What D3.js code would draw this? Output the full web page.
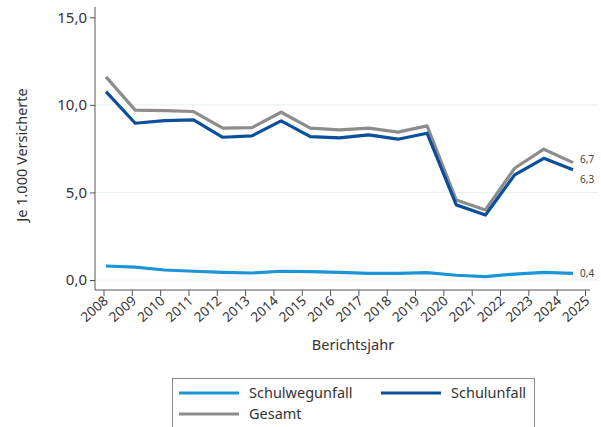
<!DOCTYPE html>
<html>
<head>
    <meta charset="utf-8"/>
    <title>Schulunfälle je 1.000 Versicherte</title>
    <script src="https://d3js.org/d3.v7.min.js"></script>
    <style>
        body { margin: 0; background: #fff; }
        text { font-family: "Noto Sans", sans-serif; }
    </style>
</head>
<body>
<div id="chart"></div>
<script>
    const years = [2008, 2009, 2010, 2011, 2012, 2013, 2014, 2015, 2016, 2017, 2018, 2019, 2020, 2021, 2022, 2023, 2024]
    const tickYears = [2008, 2009, 2010, 2011, 2012, 2013, 2014, 2015, 2016, 2017, 2018, 2019, 2020, 2021, 2022, 2023, 2024, 2025]
    const yTicks = [0, 5, 10, 15]

    const schulwegunfall = [0.80, 0.73, 0.57, 0.50, 0.44, 0.40, 0.50, 0.48, 0.44, 0.38, 0.38, 0.42, 0.27, 0.19, 0.34, 0.44, 0.38]
    const schulunfall = [10.76, 8.95, 9.10, 9.14, 8.15, 8.23, 9.09, 8.19, 8.12, 8.29, 8.04, 8.38, 4.29, 3.71, 6.00, 6.95, 6.29]
    const gesamt = [11.60, 9.70, 9.67, 9.62, 8.67, 8.70, 9.58, 8.67, 8.57, 8.67, 8.44, 8.80, 4.57, 4.00, 6.38, 7.47, 6.70]

    const seriesNames = ['Schulwegunfall', 'Schulunfall', 'Gesamt']
    const endLabels = ['0,4', '6,3', '6,7']

    const LIGHT_BLUE = '#1b95d6'
    const DARK_BLUE = '#0a4f9b'
    const GREY = '#8c8c8c'

    const W = 601, H = 427

    const svg = d3.select('#chart').append('svg')
        .attr('width', W)
        .attr('height', H)

    // axis ticks and data points are not quite on the same grid in the original
    const xAxisScale = d3.scaleLinear().domain([2008, 2025]).range([103.5, 585])
    const x = d3.scaleLinear().domain([2008, 2024]).range([106, 573])
    const y = d3.scaleLinear().domain([0, 15]).range([280, 17.3])

    // grid
    svg.append('g')
        .selectAll('line')
        .data(yTicks.slice(0, 3))
        .join('line')
        .attr('x1', 96).attr('x2', 598)
        .attr('y1', d => y(d)).attr('y2', d => y(d))
        .style('stroke', '#e6f0f2')
        .style('stroke-width', 1)

    // y axis
    const yAxis = svg.append('g')
        .attr('transform', 'translate(95,0)')
        .call(d3.axisLeft(y).tickValues(yTicks).tickSize(5).tickSizeOuter(0)
            .tickFormat(d => d3.format('.1f')(d).replace('.', ',')))
    yAxis.select('.domain').attr('d', 'M0,7V290')
    yAxis.selectAll('line').style('stroke', '#555')
    yAxis.select('.domain').style('stroke', '#555')
    yAxis.selectAll('text').style('font-size', '15px').style('fill', '#333').attr('x', -8)

    // x axis
    const xAxis = svg.append('g')
        .attr('transform', 'translate(0,290)')
        .call(d3.axisBottom(xAxisScale).tickValues(tickYears).tickSize(6).tickSizeOuter(0).tickFormat(d3.format('d')))
    xAxis.select('.domain').attr('d', 'M95,0H590').style('stroke', '#555')
    xAxis.selectAll('line').style('stroke', '#555')
    xAxis.selectAll('text')
        .style('font-size', '13.5px')
        .style('fill', '#333')
        .style('text-anchor', 'end')
        .attr('dy', null)
        .attr('y', 0)
        .attr('transform', 'translate(5,12) rotate(-42)')

    // axis titles
    svg.append('text')
        .attr('transform', 'translate(27,155) rotate(-90)')
        .attr('text-anchor', 'middle')
        .style('font-size', '14.5px')
        .style('fill', '#333')
        .text('Je 1.000 Versicherte')

    svg.append('text')
        .attr('x', 353).attr('y', 350)
        .attr('text-anchor', 'middle')
        .style('font-size', '14.5px')
        .style('fill', '#333')
        .text('Berichtsjahr')

    // lines
    const line = d3.line().x((d, i) => x(years[i])).y(d => y(d))
    const series = [
        { name: seriesNames[0], values: schulwegunfall, color: LIGHT_BLUE, label: endLabels[0], dy: 4 },
        { name: seriesNames[1], values: schulunfall, color: DARK_BLUE, label: endLabels[1], dy: 13 },
        { name: seriesNames[2], values: gesamt, color: GREY, label: endLabels[2], dy: 0 }
    ]

    // Gesamt first, the others on top
    ;[series[2], series[1], series[0]].forEach(s => {
        svg.append('path')
            .datum(s.values)
            .attr('d', line)
            .style('fill', 'none')
            .style('stroke', s.color)
            .style('stroke-width', 3.2)
            .style('stroke-linejoin', 'round')
    })

    series.forEach(s => {
        const last = s.values[s.values.length - 1]
        svg.append('text')
            .attr('x', x(2024) + 7)
            .attr('y', y(last) + s.dy)
            .style('font-size', '10px')
            .style('fill', '#444')
            .text(s.label)
    })

    // legend
    svg.append('rect')
        .attr('x', 172.5).attr('y', 378.5)
        .attr('width', 362).attr('height', 60)
        .style('fill', '#fff')
        .style('stroke', '#888')
        .style('stroke-width', 1)

    const legendItems = [
        { s: series[0], lx: 179, ly: 393 },
        { s: series[1], lx: 381, ly: 393 },
        { s: series[2], lx: 179, ly: 414 }
    ]
    legendItems.forEach(item => {
        svg.append('line')
            .attr('x1', item.lx).attr('x2', item.lx + 60)
            .attr('y1', item.ly).attr('y2', item.ly)
            .style('stroke', item.s.color)
            .style('stroke-width', 3.2)
        svg.append('text')
            .attr('x', item.lx + 70).attr('y', item.ly + 5)
            .style('font-size', '14.5px')
            .style('fill', '#333')
            .text(item.s.name)
    })
</script>
</body>
</html>
